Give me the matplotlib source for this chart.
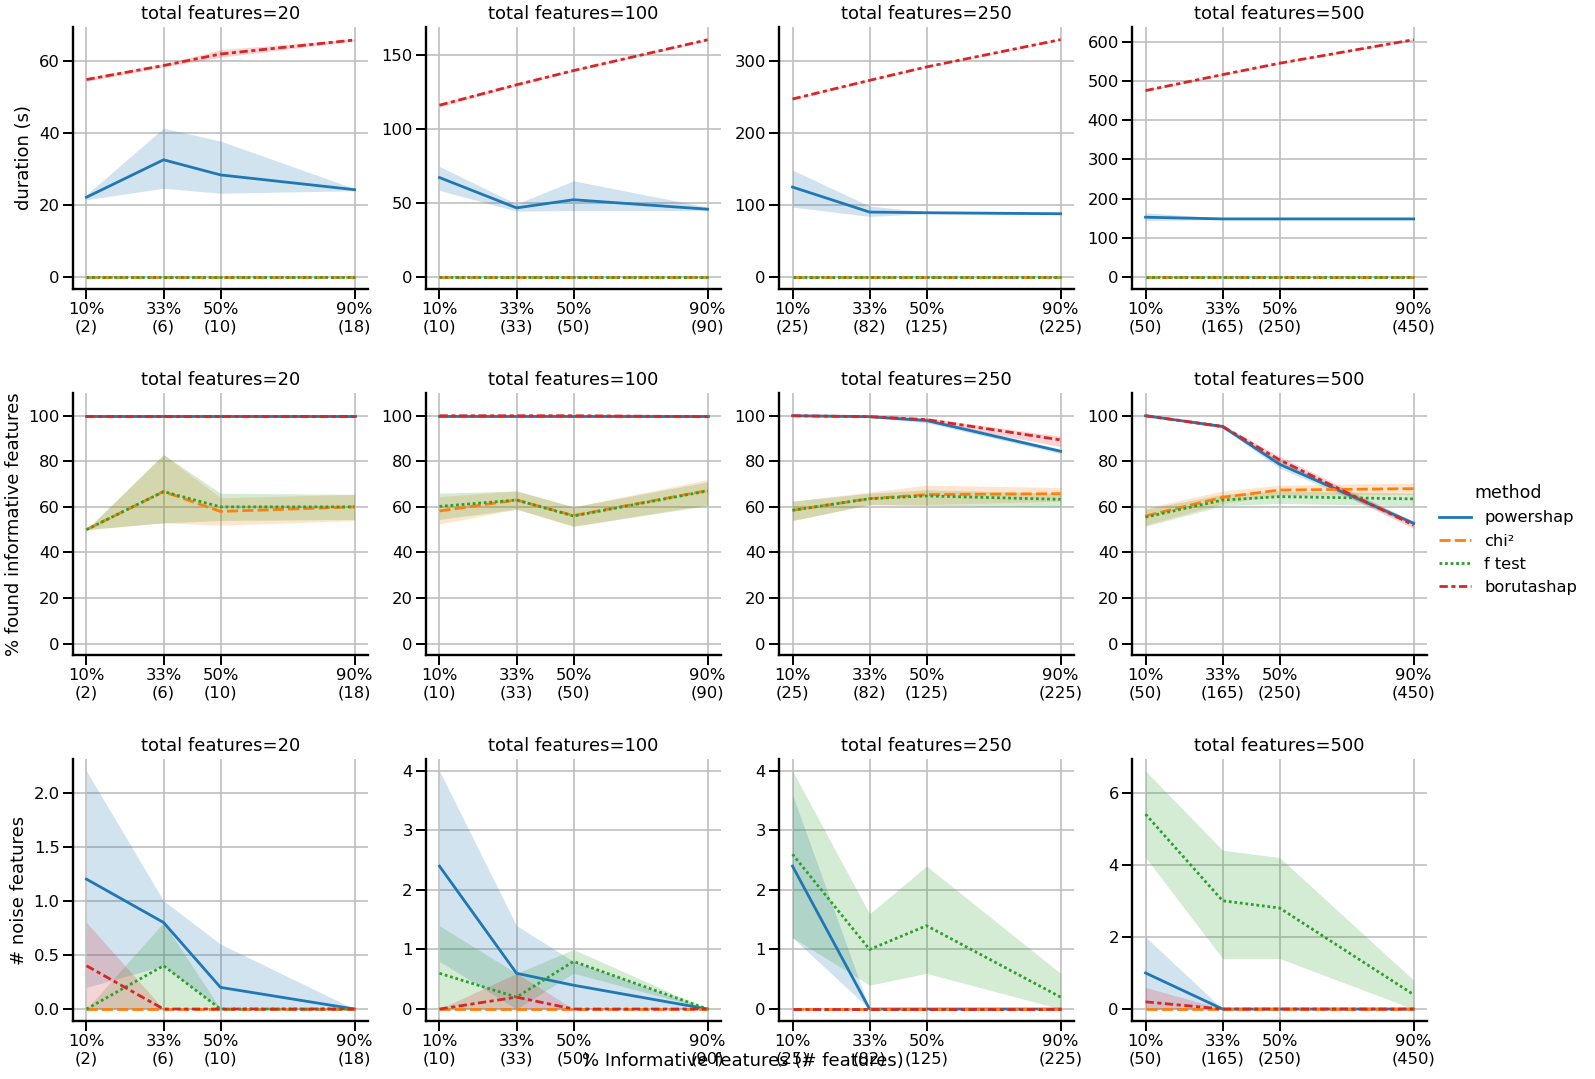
import matplotlib
matplotlib.use("Agg")
import matplotlib.pyplot as plt
from matplotlib.ticker import MultipleLocator

# === data ===
pct = [10, 33, 50, 90]
totals = [20, 100, 250, 500]
n_feat = {
    20: [2, 6, 10, 18],
    100: [10, 33, 50, 90],
    250: [25, 82, 125, 225],
    500: [50, 165, 250, 450],
}
methods = ["powershap", "chi²", "f test", "borutashap"]
colors = ["#1f77b4", "#ff7f0e", "#2ca02c", "#d62728"]
dashes = [(), (4, 1.5), (1, 1), (3, 1.25, 1.5, 1.25)]

# duration (s): mean, low, high per method per total
duration = {
    20: {
        "powershap": ([22.2, 32.6, 28.4, 24.3], [21.5, 24.7, 23.3, 24.0], [22.9, 41.4, 37.8, 24.6]),
        "chi²": ([0.05, 0.05, 0.05, 0.05], [0.04, 0.04, 0.04, 0.04], [0.06, 0.06, 0.06, 0.06]),
        "f test": ([0.03, 0.03, 0.03, 0.03], [0.02, 0.02, 0.02, 0.02], [0.04, 0.04, 0.04, 0.04]),
        "borutashap": ([54.9, 58.8, 62.0, 65.9], [54.4, 58.4, 61.1, 65.6], [55.5, 59.2, 63.2, 66.2]),
    },
    100: {
        "powershap": ([67.3, 46.8, 52.3, 45.9], [58.6, 44.6, 45.0, 45.0], [74.8, 49.5, 65.1, 47.3]),
        "chi²": ([0.1, 0.1, 0.1, 0.1], [0.08, 0.08, 0.08, 0.08], [0.12, 0.12, 0.12, 0.12]),
        "f test": ([0.06, 0.06, 0.06, 0.06], [0.05, 0.05, 0.05, 0.05], [0.07, 0.07, 0.07, 0.07]),
        "borutashap": ([116.2, 130.0, 139.6, 160.4], [115.0, 129.3, 139.0, 159.8], [117.4, 130.7, 140.2, 161.0]),
    },
    250: {
        "powershap": ([125.0, 90.3, 89.4, 88.0], [97.2, 84.3, 87.9, 86.5], [148.6, 98.6, 90.9, 89.5]),
        "chi²": ([0.3, 0.3, 0.3, 0.3], [0.25, 0.25, 0.25, 0.25], [0.35, 0.35, 0.35, 0.35]),
        "f test": ([0.2, 0.2, 0.2, 0.2], [0.15, 0.15, 0.15, 0.15], [0.25, 0.25, 0.25, 0.25]),
        "borutashap": ([247.2, 273.1, 291.7, 329.6], [246.0, 272.2, 291.0, 328.6], [248.4, 274.0, 292.4, 330.6]),
    },
    500: {
        "powershap": ([152.8, 148.5, 148.5, 148.5], [144.3, 146.5, 146.5, 146.5], [163.8, 150.5, 150.5, 150.5]),
        "chi²": ([0.8, 0.8, 0.8, 0.8], [0.7, 0.7, 0.7, 0.7], [0.9, 0.9, 0.9, 0.9]),
        "f test": ([0.5, 0.5, 0.5, 0.5], [0.4, 0.4, 0.4, 0.4], [0.6, 0.6, 0.6, 0.6]),
        "borutashap": ([475.4, 516.0, 545.0, 605.0], [473.0, 514.0, 543.0, 603.0], [477.8, 518.0, 547.0, 607.0]),
    },
}

# % found informative features
found = {
    20: {
        "powershap": ([100, 100, 100, 100], [100, 100, 100, 100], [100, 100, 100, 100]),
        "chi²": ([50, 66.7, 58.0, 60.0], [50, 53.0, 52.0, 54.0], [50, 83.0, 64.0, 65.5]),
        "f test": ([50, 66.7, 60.0, 60.0], [50, 53.0, 54.0, 54.5], [50, 83.0, 66.0, 65.5]),
        "borutashap": ([100, 100, 100, 100], [100, 100, 100, 100], [100, 100, 100, 100]),
    },
    100: {
        "powershap": ([100, 100, 100, 100], [100, 100, 100, 100], [100, 100, 100, 100]),
        "chi²": ([58.2, 63.0, 56.2, 67.2], [52.5, 59.0, 51.5, 61.0], [64.5, 67.0, 60.0, 72.0]),
        "f test": ([60.2, 63.0, 56.0, 67.0], [54.5, 59.0, 51.5, 60.5], [66.0, 67.0, 60.0, 71.0]),
        "borutashap": ([100, 100, 100, 99.6], [100, 100, 100, 99.2], [100, 100, 100, 100]),
    },
    250: {
        "powershap": ([100, 99.6, 97.9, 84.4], [100, 99.2, 96.9, 83.4], [100, 100, 98.9, 85.4]),
        "chi²": ([58.5, 63.6, 65.4, 65.8], [54.0, 61.0, 61.0, 62.5], [62.5, 66.5, 69.5, 68.5]),
        "f test": ([58.5, 63.6, 64.8, 63.3], [54.0, 61.0, 60.5, 60.0], [62.5, 66.0, 67.5, 66.0]),
        "borutashap": ([100, 99.6, 98.3, 89.4], [100, 99.2, 97.5, 86.5], [100, 100, 99.1, 91.0]),
    },
    500: {
        "powershap": ([100, 95.3, 78.7, 52.8], [100, 94.5, 77.0, 51.8], [100, 96.1, 80.4, 53.8]),
        "chi²": ([56.0, 64.2, 67.4, 68.0], [52.0, 61.5, 65.0, 65.5], [59.5, 67.0, 69.5, 70.5]),
        "f test": ([55.5, 63.0, 64.5, 63.5], [51.5, 60.5, 61.5, 60.5], [59.0, 65.5, 67.0, 66.0]),
        "borutashap": ([100, 95.3, 80.6, 52.0], [100, 94.5, 79.0, 50.5], [100, 96.1, 82.2, 53.5]),
    },
}

# number of noise features selected
noise = {
    20: {
        "powershap": ([1.2, 0.8, 0.2, 0.0], [0.2, 0.4, 0.0, 0.0], [2.2, 1.0, 0.6, 0.0]),
        "chi²": ([0, 0, 0, 0], [0, 0, 0, 0], [0, 0, 0, 0]),
        "f test": ([0.0, 0.4, 0.0, 0.0], [0.0, 0.0, 0.0, 0.0], [0.0, 0.8, 0.0, 0.0]),
        "borutashap": ([0.4, 0.0, 0.0, 0.0], [0.0, 0.0, 0.0, 0.0], [0.8, 0.0, 0.0, 0.0]),
    },
    100: {
        "powershap": ([2.4, 0.6, 0.4, 0.0], [0.8, 0.0, 0.0, 0.0], [4.0, 1.4, 0.8, 0.0]),
        "chi²": ([0, 0, 0, 0], [0, 0, 0, 0], [0, 0, 0, 0]),
        "f test": ([0.6, 0.2, 0.8, 0.0], [0.0, 0.0, 0.6, 0.0], [1.4, 0.6, 1.0, 0.0]),
        "borutashap": ([0.0, 0.2, 0.0, 0.0], [0.0, 0.0, 0.0, 0.0], [0.0, 0.6, 0.0, 0.0]),
    },
    250: {
        "powershap": ([2.4, 0.0, 0.0, 0.0], [1.2, 0.0, 0.0, 0.0], [3.6, 0.0, 0.0, 0.0]),
        "chi²": ([0, 0, 0, 0], [0, 0, 0, 0], [0, 0, 0, 0]),
        "f test": ([2.6, 1.0, 1.4, 0.2], [1.2, 0.4, 0.6, 0.0], [4.0, 1.6, 2.4, 0.6]),
        "borutashap": ([0, 0, 0, 0], [0, 0, 0, 0], [0, 0, 0, 0]),
    },
    500: {
        "powershap": ([1.0, 0.0, 0.0, 0.0], [0.0, 0.0, 0.0, 0.0], [2.0, 0.0, 0.0, 0.0]),
        "chi²": ([0, 0, 0, 0], [0, 0, 0, 0], [0, 0, 0, 0]),
        "f test": ([5.4, 3.0, 2.8, 0.4], [4.2, 1.4, 1.4, 0.0], [6.6, 4.4, 4.2, 0.8]),
        "borutashap": ([0.2, 0.0, 0.0, 0.0], [0.0, 0.0, 0.0, 0.0], [0.6, 0.0, 0.0, 0.0]),
    },
}

rows = [duration, found, noise]
ylabels = ["duration (s)", "% found informative features", "# noise features"]
ytick_steps = [[20, 50, 100, 100], [20, 20, 20, 20], [0.5, 1, 1, 2]]

# === style ===
plt.rcParams.update({
    "font.family": "DejaVu Sans",
    "axes.linewidth": 1.7,
    "xtick.major.size": 7,
    "ytick.major.size": 7,
    "xtick.major.pad": 2.6,
    "ytick.major.pad": 2.6,
    "xtick.major.width": 1.4,
    "ytick.major.width": 1.4,
    "xtick.labelsize": 11.8,
    "ytick.labelsize": 11.8,
    "axes.titlesize": 13,
    "axes.labelsize": 13,
})

fig, axes = plt.subplots(3, 4, figsize=(15.95, 10.79), dpi=100)
fig.subplots_adjust(left=0.0458, right=0.8947, bottom=0.0538, top=0.975,
                    wspace=0.197, hspace=0.397)

for r, data in enumerate(rows):
    for c, tot in enumerate(totals):
        ax = axes[r, c]
        for m, col, d in zip(methods, colors, dashes):
            mean, lo, hi = data[tot][m]
            line, = ax.plot(pct, mean, color=col, lw=2, label=m)
            if d:
                line.set_dashes(d)
            ax.fill_between(pct, lo, hi, color=col, alpha=0.2, lw=0)
        ax.set_title(f"total features={tot}")
        ax.set_xticks(pct)
        ax.set_xticklabels([f"{p}%\n({n})" for p, n in zip(pct, n_feat[tot])])
        ax.yaxis.set_major_locator(MultipleLocator(ytick_steps[r][c]))
        ax.grid(True, color="#bfbfbf", lw=1.2)
        ax.set_axisbelow(True)
        ax.spines["top"].set_visible(False)
        ax.spines["right"].set_visible(False)
        if r == 1:
            ax.set_ylim(-5, 110)
        if c == 0:
            ax.set_ylabel(ylabels[r])

handles, labels = axes[0, 0].get_legend_handles_labels()
fig.legend(handles, labels, title="method", loc="center left",
           bbox_to_anchor=(0.893, 0.5), frameon=False, fontsize=11.7,
           title_fontsize=12.5)

fig.text(0.466, 0.0167, "% Informative features (# features)", ha="center",
         va="center", fontsize=13)

plt.savefig("out.png", dpi=100)
